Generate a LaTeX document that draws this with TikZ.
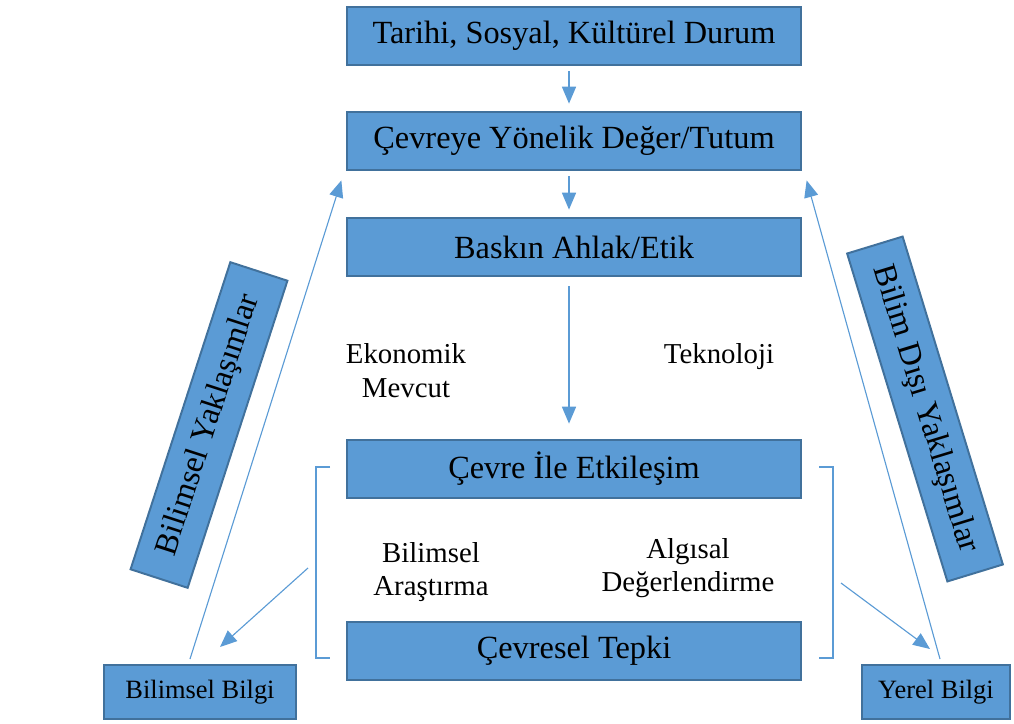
\documentclass[tikz,border=0pt]{standalone}
\usepackage{fontspec}
\setmainfont{Liberation Serif}
\usetikzlibrary{arrows.meta,calc}

\definecolor{boxblue}{HTML}{5B9BD5}
\definecolor{boxedge}{HTML}{41719C}

\tikzset{%
  flow box/.style={
    draw=boxedge,
    fill=boxblue,
    line width=1.4pt,
    inner sep=0pt,
    minimum width=11.33cm,
    minimum height=1.47cm,
    font=\fontsize{23}{27}\selectfont
  },
  know box/.style={
    flow box,
    minimum height=1.35cm,
    font=\fontsize{18.8}{22}\selectfont
  },
  approach box/.style={
    flow box,
    minimum height=1.5cm
  },
  factor/.style={
    align=center,
    font=\fontsize{20.5}{24}\selectfont
  },
  link/.style={
    draw=boxblue,
    line width=0.8pt,
    -{Triangle[length=12pt,width=10pt]}
  },
  bracket/.style={
    draw=boxblue,
    line width=0.8pt
  },
}

\begin{document}
\begin{tikzpicture}[x=0.025cm, y=-0.025cm]

\useasboundingbox (0,0) rectangle (1014,724);

% MAIN column
\node [flow box] (history)  at (574,36)  {Tarihi, Sosyal, Kültürel Durum};
\node [flow box] (value)    at (574,141) {Çevreye Yönelik Değer/Tutum};
\node [flow box] (ethic)    at (574,247) {Baskın Ahlak/Etik};
\node [flow box] (interact) at (574,469) {Çevre İle Etkileşim};
\node [flow box] (response) at (574,651) {Çevresel Tepki};

% KNOWLEDGE boxes
\node [know box, minimum width=4.8cm] (sciknow) at (200,692) {Bilimsel Bilgi};
\node [know box, minimum width=3.7cm] (localknow) at (936,692) {Yerel Bilgi};

% APPROACH boxes
\node [approach box, minimum width=8.07cm, rotate=72]
  (sciapp) at (209,425) {Bilimsel Yaklaşımlar};
\node [approach box, minimum width=8.57cm, minimum height=1.45cm, rotate=-73]
  (nonsciapp) at (925,409) {Bilim Dışı Yaklaşımlar};

% FACTOR labels
\node [factor] (economy) at (406,371) {Ekonomik\\Mevcut};
\node [factor] (techno)  at (719,357) {Teknoloji};
\node [factor] (research) at (431,572) {Bilimsel\\Araştırma};
\node [factor] (percept) at (688,568) {Algısal\\Değerlendirme};

% Brackets
\draw [bracket] (330,467) -- (316,467) -- (316,658) -- (330,658);
\draw [bracket] (819,467) -- (833,467) -- (833,658) -- (819,658);
\coordinate (lbracket) at (308,568);
\coordinate (rbracket) at (841,583);

% Connections: main column
\draw [link] ($(history.south)+(-5,5)$) -- ($(value.north)+(-5,-7)$);
\draw [link] ($(value.south)+(-5,5)$) -- ($(ethic.north)+(-5,-7)$);
\draw [link] ($(ethic.south)+(-5,9)$) -- ($(interact.north)+(-5,-15)$);

% Connections: knowledge -> value
\draw [link] ($(sciknow.north)+(-10,-5)$) -- ($(value.south west)+(-5,9)$);
\draw [link] ($(localknow.north)+(4,-5)$) -- ($(value.south east)+(5,9)$);

% Connections: brackets -> knowledge
\draw [link] (lbracket) -- ($(sciknow.north)+(20,-17)$);
\draw [link] (rbracket) -- ($(localknow.north)+(-6,-15)$);

\end{tikzpicture}
\end{document}
